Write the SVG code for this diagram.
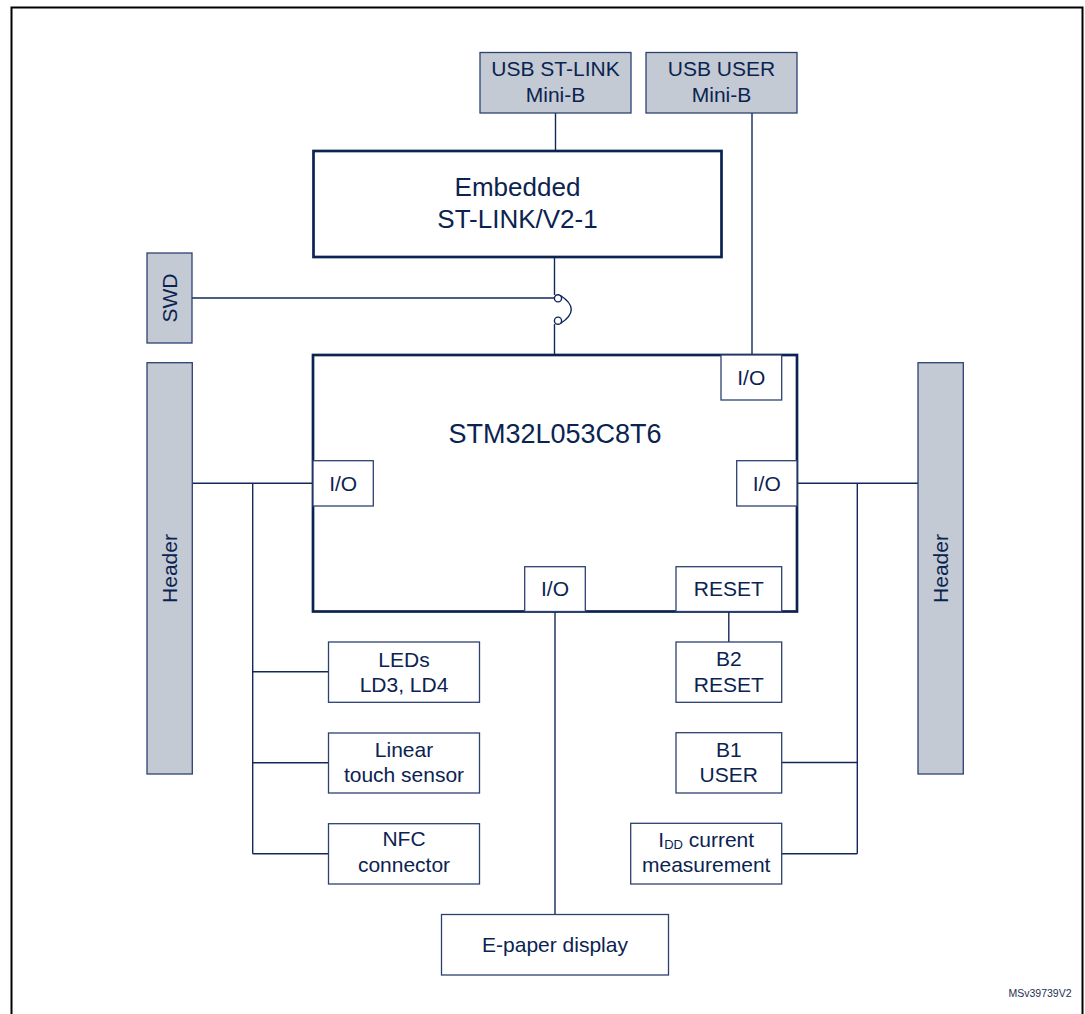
<svg xmlns="http://www.w3.org/2000/svg" width="1085" height="1014" viewBox="0 0 1085 1014">
<style>
  text { font-family: "Liberation Sans", Arial, sans-serif; fill: #0b2351; text-anchor: middle; font-size: 21px; }
  .big { font-size: 26px; }
  .chip { font-size: 27px; }
  .gray { fill: #c3cad3; stroke: #2d4170; stroke-width: 1.3; }
  .box { fill: #ffffff; stroke: #2d4170; stroke-width: 1.3; }
  .thick { fill: #ffffff; stroke: #0b2351; stroke-width: 2.7; }
  .wire { fill: none; stroke: #13285a; stroke-width: 1.4; }
  .ref { font-size: 10.5px; fill: #1f2f50; text-anchor: end; }
</style>
<rect width="1085" height="1014" fill="#ffffff"/>
<rect x="11.5" y="7.5" width="1071" height="1030" fill="none" stroke="#000000" stroke-width="2"/>

<g id="connectors">
  <line class="wire" x1="555.5" y1="113" x2="555.5" y2="151"/>
  <line class="wire" x1="752" y1="113" x2="752" y2="355"/>
  <line class="wire" x1="554.5" y1="257" x2="554.5" y2="295"/>
  <line class="wire" x1="192" y1="298" x2="554.5" y2="298"/>
  <circle class="wire" cx="558" cy="298.3" r="3.6"/>
  <circle class="wire" cx="558" cy="320.7" r="3.6"/>
  <path class="wire" d="M 560.5,295.5 Q 582,309.5 560.5,323.5"/>
  <line class="wire" x1="554.5" y1="324" x2="554.5" y2="355"/>
  <line class="wire" x1="192" y1="483.3" x2="313" y2="483.3"/>
  <line class="wire" x1="252.7" y1="483.3" x2="252.7" y2="853.7"/>
  <line class="wire" x1="252.7" y1="671.7" x2="328.5" y2="671.7"/>
  <line class="wire" x1="252.7" y1="762.7" x2="328.5" y2="762.7"/>
  <line class="wire" x1="252.7" y1="853.7" x2="328.5" y2="853.7"/>
  <line class="wire" x1="797" y1="483.3" x2="918" y2="483.3"/>
  <line class="wire" x1="857.3" y1="483.3" x2="857.3" y2="853.7"/>
  <line class="wire" x1="781.5" y1="762.5" x2="857.3" y2="762.5"/>
  <line class="wire" x1="781.5" y1="853.7" x2="857.3" y2="853.7"/>
  <line class="wire" x1="728.8" y1="611.5" x2="728.8" y2="642"/>
  <line class="wire" x1="555" y1="611.5" x2="555" y2="914.5"/>
</g>

<g id="usb-stlink">
  <rect class="gray" x="480" y="52.5" width="151" height="60.5"/>
  <text x="555.5" y="76">USB ST-LINK</text>
  <text x="555.5" y="102">Mini-B</text>
</g>
<g id="usb-user">
  <rect class="gray" x="646" y="52.5" width="151" height="60.5"/>
  <text x="721.5" y="76">USB USER</text>
  <text x="721.5" y="102">Mini-B</text>
</g>
<g id="embedded-stlink">
  <rect class="thick" x="313.5" y="151" width="408" height="106"/>
  <text class="big" x="517.5" y="196">Embedded</text>
  <text class="big" x="517.5" y="228">ST-LINK/V2-1</text>
</g>
<g id="swd">
  <rect class="gray" x="147" y="253" width="45" height="90"/>
  <text transform="translate(176.5,298) rotate(-90)" x="0" y="0">SWD</text>
</g>
<g id="header-left">
  <rect class="gray" x="147" y="362.7" width="45.3" height="411.3"/>
  <text transform="translate(177,568.5) rotate(-90)" x="0" y="0">Header</text>
</g>
<g id="header-right">
  <rect class="gray" x="918" y="362.7" width="45.3" height="411.3"/>
  <text transform="translate(948,568.5) rotate(-90)" x="0" y="0">Header</text>
</g>
<g id="stm32">
  <rect class="thick" x="313" y="355" width="484" height="256.5"/>
  <text class="chip" x="555" y="443">STM32L053C8T6</text>
</g>
<g id="io-top">
  <rect class="box" x="721" y="355" width="60.7" height="45"/>
  <text x="751.3" y="384.5">I/O</text>
</g>
<g id="io-left">
  <rect class="box" x="313" y="460.7" width="60.3" height="45.3"/>
  <text x="343.2" y="490.5">I/O</text>
</g>
<g id="io-right">
  <rect class="box" x="736.7" y="460.7" width="60.3" height="45.3"/>
  <text x="766.8" y="490.5">I/O</text>
</g>
<g id="io-bottom">
  <rect class="box" x="524.7" y="566.7" width="60.6" height="44.8"/>
  <text x="555" y="596">I/O</text>
</g>
<g id="reset-pin">
  <rect class="box" x="676" y="566.7" width="105.7" height="44.8"/>
  <text x="728.8" y="595.7">RESET</text>
</g>
<g id="b2-reset">
  <rect class="box" x="676" y="642" width="105.7" height="60.3"/>
  <text x="728.8" y="666">B2</text>
  <text x="728.8" y="691.7">RESET</text>
</g>
<g id="b1-user">
  <rect class="box" x="676" y="732.7" width="105.7" height="60.3"/>
  <text x="728.8" y="756.7">B1</text>
  <text x="728.8" y="781.7">USER</text>
</g>
<g id="idd">
  <rect class="box" x="630.7" y="823.3" width="151" height="60.7"/>
  <text x="706.2" y="846.7">I<tspan font-size="13" dy="2">DD</tspan><tspan dy="-2"> current</tspan></text>
  <text x="706.2" y="872.3">measurement</text>
</g>
<g id="leds">
  <rect class="box" x="328.5" y="642" width="151" height="60.3"/>
  <text x="404" y="666.7">LEDs</text>
  <text x="404" y="691.7">LD3, LD4</text>
</g>
<g id="touch">
  <rect class="box" x="328.5" y="733" width="151" height="60"/>
  <text x="404" y="756.7">Linear</text>
  <text x="404" y="781.7">touch sensor</text>
</g>
<g id="nfc">
  <rect class="box" x="328.5" y="823.7" width="151" height="60.3"/>
  <text x="404" y="846">NFC</text>
  <text x="404" y="872.3">connector</text>
</g>
<g id="epaper">
  <rect class="box" x="441.5" y="914.5" width="227" height="60.5"/>
  <text x="555" y="951.7">E-paper display</text>
</g>
<text class="ref" x="1071.5" y="996.7">MSv39739V2</text>
</svg>
